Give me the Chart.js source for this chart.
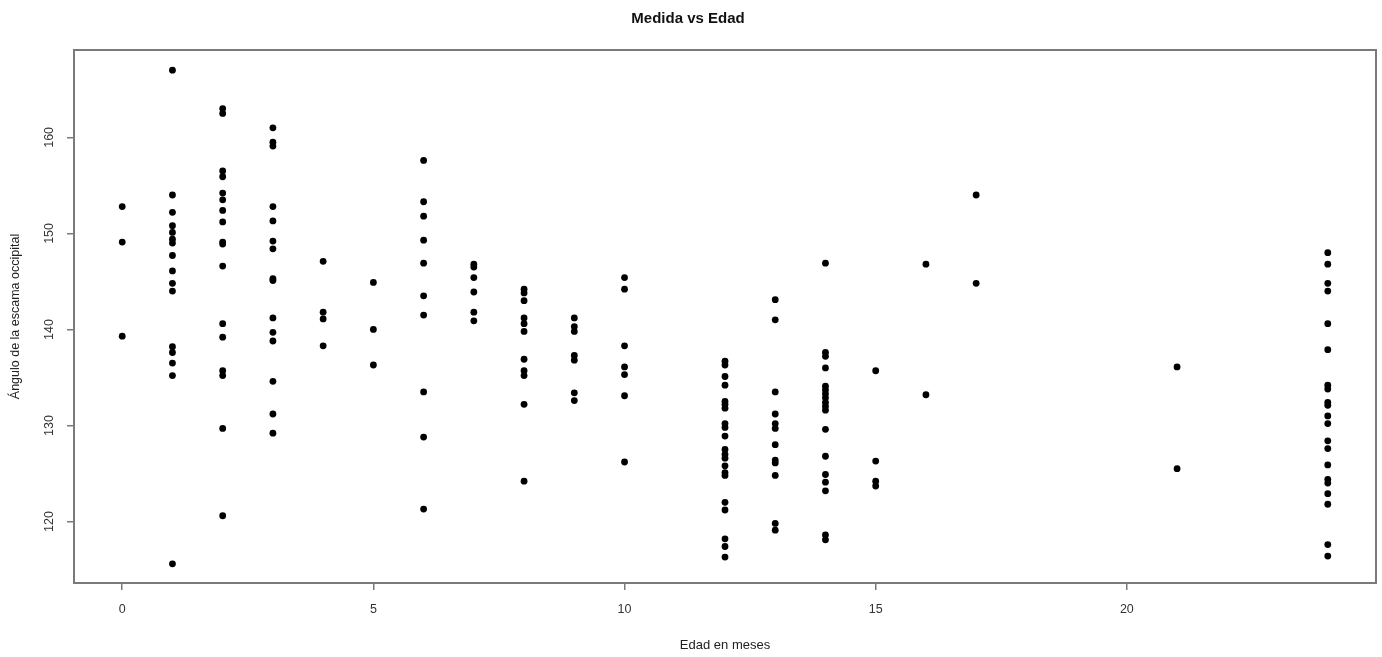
<!DOCTYPE html>
<html>
<head>
<meta charset="utf-8">
<script src="https://cdn.jsdelivr.net/npm/chart.js@4/dist/chart.umd.min.js"></script>
<style>
  html, body { margin: 0; padding: 0; background: #fff; }
  #wrap { width: 1382px; height: 657px; }
</style>
</head>
<body>
<div id="wrap"><canvas id="scatter"></canvas></div>
<script>
// edad (meses) y los angulos medidos en cada edad
const edades = [0, 1, 2, 3, 4, 5, 6, 7, 8, 9, 10, 12, 13, 14, 15, 16, 17, 21, 24];
const angulos = [
  [152.8, 149.1, 139.3],
  [167.0, 154.0, 152.2, 150.8, 150.1, 149.4, 149.0, 147.7, 146.1, 144.8, 144.0, 138.2, 137.6, 136.5, 135.2, 115.6],
  [163.0, 162.5, 156.5, 155.9, 154.2, 153.5, 152.4, 151.2, 149.1, 148.9, 146.6, 140.6, 139.2, 135.7, 135.2, 129.7, 120.6],
  [161.0, 159.5, 159.1, 152.8, 151.3, 149.2, 148.4, 145.3, 145.1, 141.2, 139.7, 138.8, 134.6, 131.2, 129.2],
  [147.1, 141.8, 141.1, 138.3],
  [144.9, 140.0, 136.3],
  [157.6, 153.3, 151.8, 149.3, 146.9, 143.5, 141.5, 133.5, 128.8, 121.3],
  [146.8, 146.5, 145.4, 143.9, 141.8, 140.9],
  [144.2, 143.8, 143.0, 141.2, 140.6, 139.8, 136.9, 135.7, 135.2, 132.2, 124.2],
  [141.2, 140.3, 139.8, 137.3, 136.8, 133.4, 132.6],
  [145.4, 144.2, 138.3, 136.1, 135.3, 133.1, 126.2],
  [136.7, 136.3, 135.1, 134.2, 132.5, 132.2, 131.8, 130.2, 129.8, 128.9, 127.5, 127.0, 126.6, 125.8, 125.1, 124.8, 122.0, 121.2, 118.2, 117.4, 116.3],
  [143.1, 141.0, 133.5, 131.2, 130.2, 129.7, 128.0, 126.4, 126.1, 124.8, 119.8, 119.1],
  [146.9, 137.6, 137.2, 136.0, 134.1, 133.7, 133.3, 132.9, 132.4, 132.0, 131.6, 129.6, 126.8, 124.9, 124.1, 123.2, 118.6, 118.1],
  [135.7, 126.3, 124.2, 123.7],
  [146.8, 133.2],
  [154.0, 144.8],
  [136.1, 125.5],
  [148.0, 146.8, 144.8, 144.0, 140.6, 137.9, 134.2, 133.8, 132.4, 132.1, 131.0, 130.2, 128.4, 127.6, 125.9, 124.4, 124.0, 122.9, 121.8, 117.6, 116.4]
];
const xTicks = [0, 5, 10, 15, 20];
const yTicks = [120, 130, 140, 150, 160];

const puntos = [];
edades.forEach((e, i) => {
  angulos[i].forEach(a => puntos.push({ x: e, y: a }));
});

const axisColor = '#7a7a7a';
const fontFam = "'Liberation Sans', Arial, sans-serif";

// marco alrededor del area de grafico (estilo R)
const boxPlugin = {
  id: 'box',
  beforeDatasetsDraw(chart) {
    const a = chart.chartArea;
    const ctx = chart.ctx;
    ctx.save();
    ctx.strokeStyle = axisColor;
    ctx.lineWidth = 2;
    ctx.strokeRect(a.left, a.top, a.right - a.left, a.bottom - a.top);
    ctx.restore();
  }
};

new Chart(document.getElementById('scatter'), {
  type: 'scatter',
  data: {
    datasets: [{
      data: puntos,
      backgroundColor: '#000',
      borderColor: '#000',
      pointRadius: 3.4,
      pointHoverRadius: 3.4,
      borderWidth: 0
    }]
  },
  options: {
    responsive: true,
    maintainAspectRatio: false,
    animation: false,
    layout: { padding: { left: 0, right: 6, top: 0, bottom: 0 } },
    plugins: {
      legend: { display: false },
      tooltip: { enabled: false },
      title: {
        display: true,
        text: 'Medida vs Edad',
        color: '#111',
        font: { family: fontFam, size: 15, weight: 'bold' },
        padding: { top: 10, bottom: 22 }
      }
    },
    scales: {
      x: {
        type: 'linear',
        min: -0.96,
        max: 24.96,
        afterBuildTicks: s => { s.ticks = xTicks.map(v => ({ value: v })); },
        afterFit: s => { s.height = 74; },
        grid: { display: true, drawOnChartArea: false, drawTicks: true, tickLength: 7, color: axisColor, lineWidth: 1.5 },
        border: { display: false },
        ticks: { padding: 12, color: '#333', font: { family: fontFam, size: 12.5 } },
        title: {
          display: true,
          text: 'Edad en meses',
          color: '#222',
          font: { family: fontFam, size: 13 },
          padding: { top: 4, bottom: 4 }
        }
      },
      y: {
        type: 'linear',
        min: 113.6,
        max: 169.1,
        afterBuildTicks: s => { s.ticks = yTicks.map(v => ({ value: v })); },
        afterFit: s => { s.width = 74; },
        grid: { display: true, drawOnChartArea: false, drawTicks: true, tickLength: 7, color: axisColor, lineWidth: 1.5 },
        border: { display: false },
        ticks: {
          minRotation: 90,
          maxRotation: 90,
          crossAlign: 'center',
          padding: 7,
          color: '#333',
          font: { family: fontFam, size: 12.5 }
        },
        title: {
          display: true,
          text: 'Ángulo de la escama occipital',
          color: '#222',
          font: { family: fontFam, size: 12.5 },
          padding: { top: 8, bottom: 8 }
        }
      }
    }
  },
  plugins: [boxPlugin]
});
</script>
</body>
</html>
